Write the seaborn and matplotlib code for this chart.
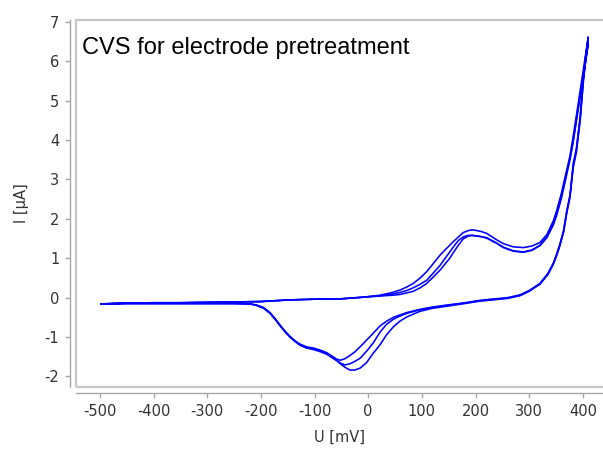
import matplotlib
matplotlib.use("Agg")
import matplotlib.pyplot as plt
from matplotlib.patches import Rectangle
import numpy as np
import pandas as pd
import seaborn as sns

# Potentials (mV) of the anodic (forward) sweep, shared by all three cycles
E_FWD = [-498, -450, -400, -350, -300, -250, -200, -150, -100, -50,
         -10, 22, 45, 59, 72, 84, 97, 109, 121, 134,
         143, 152, 160, 168, 177, 186, 193, 200, 210, 221,
         239, 252, 270, 289, 305, 320, 333, 345, 351, 360,
         367, 376, 382, 391, 401, 410]

# Currents (uA) on the forward sweep, one list per cycle
I_FWD_1 = [-0.16, -0.14, -0.13, -0.13, -0.12, -0.11, -0.10, -0.06, -0.04, -0.03,
           0.01, 0.06, 0.13, 0.19, 0.27, 0.36, 0.50, 0.66, 0.86, 1.08,
           1.21, 1.33, 1.44, 1.54, 1.65, 1.70, 1.72, 1.71, 1.68, 1.63,
           1.47, 1.37, 1.29, 1.27, 1.31, 1.40, 1.60, 1.95, 2.20, 2.65,
           3.07, 3.60, 4.10, 4.90, 5.80, 6.62]
I_FWD_2 = [-0.16, -0.14, -0.13, -0.13, -0.12, -0.11, -0.10, -0.06, -0.04, -0.03,
           0.01, 0.05, 0.09, 0.13, 0.18, 0.25, 0.34, 0.44, 0.62, 0.82,
           0.99, 1.16, 1.31, 1.45, 1.54, 1.58, 1.58, 1.57, 1.55, 1.52,
           1.39, 1.28, 1.19, 1.16, 1.21, 1.33, 1.55, 1.88, 2.12, 2.58,
           3.00, 3.55, 4.00, 4.80, 5.65, 6.50]
I_FWD_3 = [-0.16, -0.14, -0.13, -0.13, -0.12, -0.11, -0.10, -0.06, -0.04, -0.03,
           0.01, 0.04, 0.06, 0.08, 0.12, 0.16, 0.25, 0.36, 0.52, 0.70,
           0.85, 1.00, 1.17, 1.33, 1.49, 1.56, 1.58, 1.57, 1.55, 1.51,
           1.38, 1.27, 1.18, 1.15, 1.20, 1.32, 1.52, 1.85, 2.08, 2.52,
           2.95, 3.50, 3.95, 4.75, 5.60, 6.45]

# Potentials (mV) of the cathodic (reverse) sweep
E_REV = [410, 405, 401, 395, 388, 382, 376, 370, 364, 357,
         351, 345, 335, 320, 300, 283, 260, 230, 208, 180,
         146, 120, 96, 72, 59, 47, 34, 22, 9, -3,
         -15, -25, -34, -43, -52, -59, -68, -77, -90, -102,
         -115, -127, -136, -146, -155, -164, -173, -183, -195, -208,
         -220, -250, -300, -350, -400, -450, -498]

# Currents (uA) on the reverse sweep, one list per cycle
I_REV_1 = [6.62, 6.10, 5.60, 4.60, 3.80, 3.40, 2.60, 2.20, 1.70, 1.35,
           1.10, 0.88, 0.62, 0.36, 0.18, 0.07, 0.00, -0.04, -0.07, -0.13,
           -0.19, -0.24, -0.30, -0.38, -0.44, -0.50, -0.60, -0.72, -0.91, -1.08,
           -1.25, -1.38, -1.47, -1.55, -1.59, -1.56, -1.48, -1.40, -1.33, -1.28,
           -1.25, -1.18, -1.10, -0.98, -0.85, -0.70, -0.54, -0.38, -0.25, -0.19,
           -0.16, -0.15, -0.15, -0.15, -0.15, -0.15, -0.16]
I_REV_2 = [6.50, 6.05, 5.55, 4.55, 3.75, 3.35, 2.58, 2.18, 1.68, 1.33,
           1.08, 0.86, 0.60, 0.35, 0.17, 0.06, -0.01, -0.05, -0.08, -0.14,
           -0.20, -0.25, -0.31, -0.40, -0.47, -0.55, -0.68, -0.88, -1.16, -1.36,
           -1.54, -1.62, -1.68, -1.71, -1.66, -1.58, -1.50, -1.42, -1.35, -1.30,
           -1.27, -1.20, -1.11, -0.99, -0.86, -0.71, -0.55, -0.39, -0.26, -0.19,
           -0.16, -0.15, -0.15, -0.15, -0.15, -0.15, -0.16]
I_REV_3 = [6.45, 6.00, 5.50, 4.50, 3.70, 3.30, 2.55, 2.15, 1.66, 1.31,
           1.06, 0.85, 0.59, 0.34, 0.16, 0.05, -0.02, -0.06, -0.09, -0.15,
           -0.22, -0.27, -0.35, -0.49, -0.60, -0.74, -0.95, -1.20, -1.42, -1.65,
           -1.79, -1.84, -1.84, -1.77, -1.68, -1.60, -1.52, -1.44, -1.37, -1.32,
           -1.28, -1.21, -1.12, -1.00, -0.87, -0.72, -0.56, -0.40, -0.27, -0.20,
           -0.16, -0.15, -0.15, -0.15, -0.15, -0.15, -0.16]

X_TICKS = [-500, -400, -300, -200, -100, 0, 100, 200, 300, 400]
Y_TICKS = [-2, -1, 0, 1, 2, 3, 4, 5, 6, 7]
TITLE = "CVS for electrode pretreatment"
X_LABEL = "U [mV]"
Y_LABEL = "I [µA]"

# Assemble one continuous trace per cycle
cycles = [(I_FWD_1, I_REV_1), (I_FWD_2, I_REV_2), (I_FWD_3, I_REV_3)]
frames = []
for k, (fwd, rev) in enumerate(cycles, start=1):
    e = E_FWD + E_REV
    i = fwd + rev
    frames.append(pd.DataFrame({"U": e, "I": i, "cycle": k, "step": range(len(e))}))
df = pd.concat(frames, ignore_index=True)

sns.set_style("white")
plt.rcParams["font.family"] = ["DejaVu Sans"]
plt.rcParams["axes.unicode_minus"] = False

W, H = 603, 451
fig = plt.figure(figsize=(W / 100, H / 100), dpi=100)
left, right, top, bottom = 76, 603, 20, 387
ax = fig.add_axes([left / W, (H - bottom) / H, (right - left) / W, (bottom - top) / H])

sns.lineplot(data=df, x="U", y="I", units="cycle", estimator=None, sort=False,
             color="#0000ff", linewidth=1.15, ax=ax, legend=False)

# pixel -> data mapping of the axes box
ax.set_xlim(-544.4, 437.5)
ax.set_ylim(-2.27, 7.05)
ax.set_xticks(X_TICKS)
ax.set_yticks(Y_TICKS)

spine_col = "#a8a8a8"
for s in ["top", "right"]:
    ax.spines[s].set_visible(False)
for s in ["left", "bottom"]:
    ax.spines[s].set_color(spine_col)
    ax.spines[s].set_linewidth(1.0)
    ax.spines[s].set_position(("outward", 4.5))

ax.tick_params(axis="both", which="major", direction="out", length=3.5, width=1.0,
               color=spine_col, labelcolor="#333333", labelsize=10.5, pad=4)
ax.tick_params(axis="both", bottom=True, left=True)

# light gray frame around the plotting area
frame = Rectangle((0, 0), 1.02, 1, transform=ax.transAxes, fill=False,
                  edgecolor="#c8c8c8", linewidth=1.6, clip_on=False, zorder=0)
ax.add_patch(frame)

ax.set_xlabel(X_LABEL, fontsize=10.5, color="#333333", labelpad=8)
ax.set_ylabel(Y_LABEL, fontsize=10.5, color="#333333", labelpad=11)

ax.text((82 - left) / (right - left), (bottom - 54) / (bottom - top), TITLE,
        transform=ax.transAxes, fontsize=17, family="Liberation Sans",
        color="black", ha="left", va="baseline")

fig.savefig("out.png", dpi=100)
